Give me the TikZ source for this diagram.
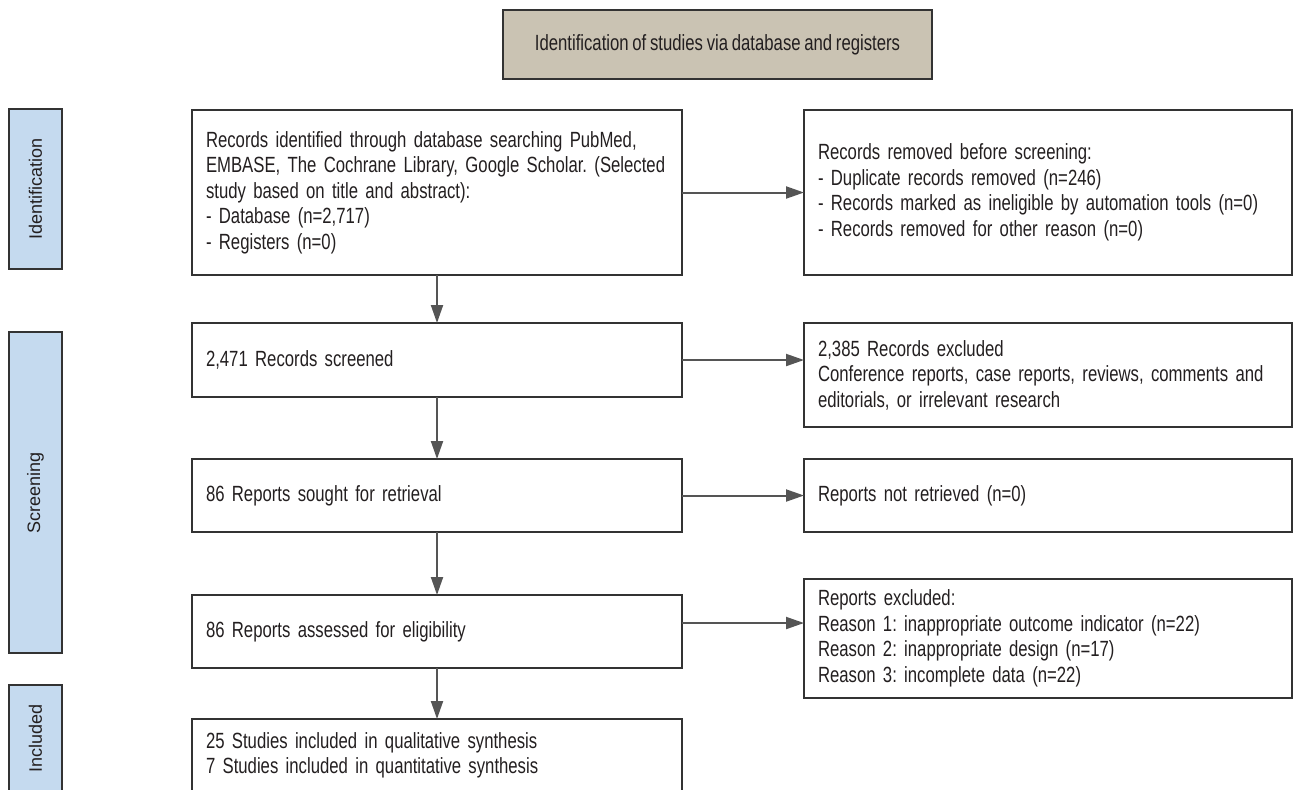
\documentclass[tikz,border=0pt]{standalone}
\usepackage{fontspec}
\setmainfont[FakeStretch=0.76,WordSpace=0.8]{Liberation Sans}
\newfontfamily\sidefont{Liberation Sans}
\frenchspacing
\usetikzlibrary{arrows.meta}
\definecolor{boxline}{HTML}{333333}
\definecolor{flowgray}{HTML}{555555}
\definecolor{titletan}{HTML}{CAC3B3}
\definecolor{sideblue}{HTML}{C5DAEF}
\definecolor{textgray}{HTML}{231F20}

\begin{document}
\begin{tikzpicture}[x=0.5pt,y=-0.5pt,
	every node/.style={text=textgray,font=\fontsize{11}{12.75}\selectfont},
	mainbox/.style={draw=boxline,line width=0.85pt,anchor=north west,align=left,text width=231pt,inner xsep=7pt,inner ysep=0pt,outer sep=0pt},
	sidebox/.style={mainbox,text width=230pt},
	headbox/.style={draw=boxline,fill=titletan,line width=0.85pt,anchor=north west,minimum width=214.5pt,minimum height=34.5pt,inner sep=0pt,outer sep=0pt},
	sidelab/.style={draw=boxline,fill=sideblue,line width=0.85pt,rotate=90,minimum height=26.5pt,inner sep=0pt,outer sep=0pt,font=\sidefont\fontsize{9}{10}\selectfont},
	flow/.style={draw=flowgray,line width=1pt,-{Triangle[length=9pt,width=6pt]}}]
	\useasboundingbox (0,0) rectangle (1293,789);
	% heading
	\node[headbox] (title) at (503,10) {Identification of studies via database and registers};
	% phases
	\node[sidelab,minimum width=80pt] (idlab) at (35.5,189) {Identification};
	\node[sidelab,minimum width=160.5pt] (scrlab) at (35.5,492.5) {Screening};
	\node[sidelab,minimum width=53pt] (inclab) at (35.5,738) {Included};
	% main column
	\node[mainbox,minimum height=82.5pt] (recid) at (192,110) {Records identified through database searching PubMed,\\EMBASE, The Cochrane Library, Google Scholar. (Selected\\study based on title and abstract):\\- Database (n=2,717)\\- Registers (n=0)};
	\node[mainbox,minimum height=37pt] (screened) at (192,323) {2,471 Records screened};
	\node[mainbox,minimum height=36.5pt] (sought) at (192,459) {86 Reports sought for retrieval};
	\node[mainbox,minimum height=36.5pt] (assessed) at (192,595) {86 Reports assessed for eligibility};
	\node[mainbox,minimum height=36.5pt] (included) at (192,719) {25 Studies included in qualitative synthesis\\7 Studies included in quantitative synthesis};
	% side column
	\node[sidebox,minimum height=82.5pt] (removed) at (804,110) {Records removed before screening:\\- Duplicate records removed (n=246)\\- Records marked as ineligible by automation tools (n=0)\\- Records removed for other reason (n=0)};
	\node[sidebox,minimum height=52pt] (excluded) at (804,323) {2,385 Records excluded\\Conference reports, case reports, reviews, comments and\\editorials, or irrelevant research};
	\node[sidebox,minimum height=36.5pt] (notret) at (804,459) {Reports not retrieved (n=0)};
	\node[sidebox,minimum height=59.5pt] (repexc) at (804,579) {Reports excluded:\\Reason 1: inappropriate outcome indicator (n=22)\\Reason 2: inappropriate design (n=17)\\Reason 3: incomplete data (n=22)};
	% arrows
	\draw[flow] (recid) -- (screened);
	\draw[flow] (screened) -- (sought);
	\draw[flow] (sought) -- (assessed);
	\draw[flow] (assessed) -- (included);
	\draw[flow] (recid) -- (removed);
	\draw[flow] (screened.east) -- (screened.east -| excluded.west);
	\draw[flow] (sought) -- (notret);
	\draw[flow] ([yshift=4.25pt]assessed.east) -- ([yshift=4.25pt]assessed.east -| repexc.west);
\end{tikzpicture}
\end{document}
